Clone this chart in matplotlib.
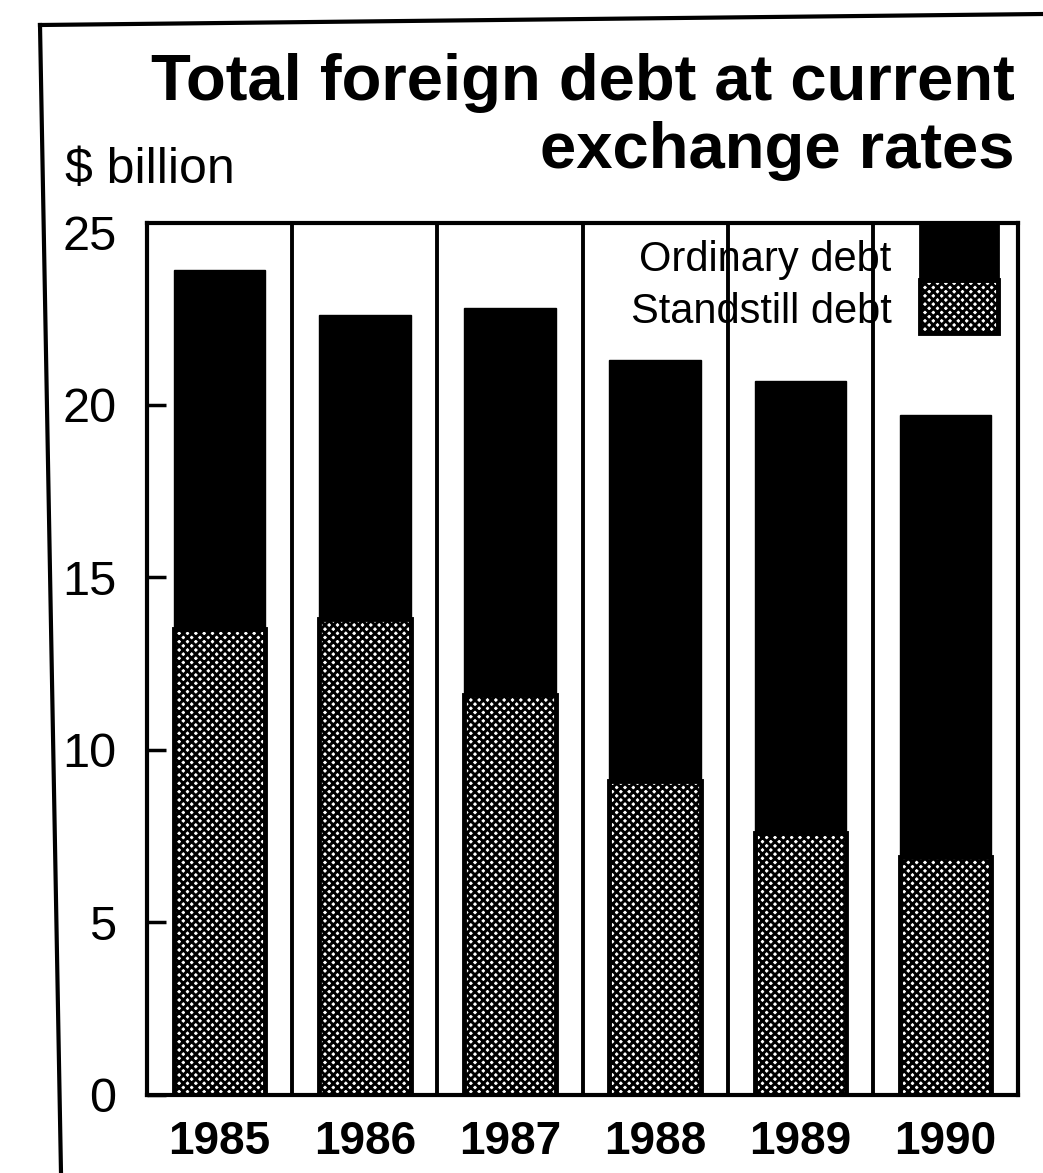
import matplotlib
matplotlib.use("Agg")
import matplotlib.pyplot as plt
import numpy as np
from matplotlib.patches import Rectangle
from matplotlib.lines import Line2D

years = ['1985', '1986', '1987', '1988', '1989', '1990']
standstill = [13.5, 13.8, 11.6, 9.1, 7.6, 6.9]
total = [23.9, 22.6, 22.8, 21.3, 20.7, 19.7]
ordinary = [t - s for t, s in zip(total, standstill)]
yticks = [0, 5, 10, 15, 20, 25]

plt.rcParams['font.family'] = ['Liberation Sans', 'DejaVu Sans']
plt.rcParams['hatch.linewidth'] = 2.1

fig = plt.figure(figsize=(10.43, 11.73), dpi=100)
ax = fig.add_axes([0.141, 0.0665, 0.835, 0.743])

x = np.arange(len(years))
ax.bar(x, standstill, width=0.63, color='white', edgecolor='black', hatch='xxxx', linewidth=0)
ax.bar(x, standstill, width=0.63, fill=False, edgecolor='black', linewidth=3.5)
ax.bar(x, ordinary, bottom=standstill, width=0.63, color='black', edgecolor='black', linewidth=1)

for sep in x[:-1] + 0.5:
    ax.axvline(sep, color='black', linewidth=2.8)

ax.set_xlim(-0.5, len(years) - 0.5)
ax.set_ylim(0, 25.25)
ax.set_yticks(yticks)
ax.set_yticklabels([str(v) for v in yticks], fontsize=35)
ax.set_xticks(x)
ax.set_xticklabels(years, fontsize=33, fontweight='bold')
ax.tick_params(axis='y', direction='in', length=14, width=2.5, pad=22)
ax.tick_params(axis='x', length=0, pad=18)
# no tick mark drawn at the top value, only its label
ax.yaxis.get_major_ticks()[-1].tick1line.set_visible(False)
for s in ax.spines.values():
    s.set_linewidth(3)

# legend drawn by hand: labels left of a stacked swatch
ax.add_patch(Rectangle((0.887, 0.935), 0.09, 0.065, transform=ax.transAxes,
                       facecolor='black', edgecolor='black', linewidth=2, clip_on=False))
ax.add_patch(Rectangle((0.887, 0.874), 0.09, 0.061, transform=ax.transAxes,
                       facecolor='white', edgecolor='black', hatch='xxxx', linewidth=3.5, clip_on=False))
ax.text(0.855, 0.958, 'Ordinary debt', transform=ax.transAxes, ha='right', va='center', fontsize=30)
ax.text(0.855, 0.898, 'Standstill debt', transform=ax.transAxes, ha='right', va='center', fontsize=30)

fig.text(0.973, 0.915, 'Total foreign debt at current', ha='right', va='baseline',
         fontsize=47, fontweight='bold')
fig.text(0.973, 0.857, 'exchange rates', ha='right', va='baseline',
         fontsize=47, fontweight='bold')
fig.text(0.062, 0.844, '$ billion', ha='left', va='baseline', fontsize=36)

# outer frame of the clipping (top and left edges only)
fig.add_artist(Line2D([40 / 1043, 1.0], [1 - 25 / 1173, 1 - 14 / 1173], color='black', linewidth=3))
fig.add_artist(Line2D([40 / 1043, 61 / 1043], [1 - 25 / 1173, 0.0], color='black', linewidth=3))

plt.savefig("out.png", dpi=100)
